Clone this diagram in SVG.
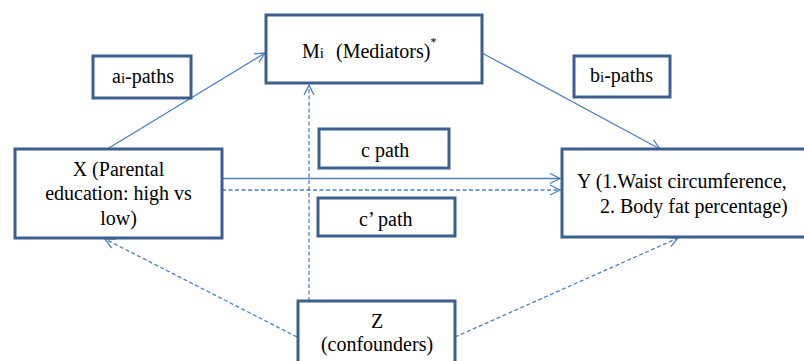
<svg xmlns="http://www.w3.org/2000/svg" width="804" height="361" viewBox="0 0 804 361">
<style>
.box{fill:#fff;stroke:#3d5f8e;stroke-width:3}
.t{font-family:'Liberation Serif','Times New Roman',Times,'DejaVu Serif',serif;font-size:20px;fill:#000}
.c{fill:none;stroke:#4f81bd;stroke-width:1.3}
.d{stroke-dasharray:4 2.5}
</style>
<defs>
<marker id="ah" viewBox="0 0 12 12" refX="11" refY="6" markerWidth="12" markerHeight="12" markerUnits="userSpaceOnUse" orient="auto">
<path d="M1,1 L11,6 L1,11" fill="none" stroke="#4f81bd" stroke-width="1.3"/>
</marker>
</defs>
<rect width="804" height="361" fill="#fff"/>
<g id="connectors">
<line class="c" x1="104" y1="151" x2="265" y2="53" marker-end="url(#ah)"/>
<line class="c" x1="482" y1="53" x2="660" y2="149" marker-end="url(#ah)"/>
<line class="c" x1="222" y1="178.5" x2="560" y2="178.5" marker-end="url(#ah)"/>
<line class="c d" x1="222" y1="190" x2="560" y2="190" marker-end="url(#ah)"/>
<line class="c d" x1="309" y1="301" x2="309" y2="85" marker-end="url(#ah)"/>
<line class="c d" x1="297" y1="337" x2="105" y2="239" marker-end="url(#ah)"/>
<line class="c d" x1="455" y1="337" x2="678" y2="238" marker-end="url(#ah)"/>
</g>
<g id="node-M">
<rect class="box" x="266" y="15" width="216" height="68"/>
<text class="t" x="302" y="58">M<tspan font-size="15">i</tspan><tspan x="336">(Mediators)</tspan><tspan font-size="12" dy="-12">*</tspan></text>
</g>
<g id="label-a">
<rect class="box" x="93" y="56" width="98" height="42"/>
<text class="t" x="112" y="83">a<tspan font-size="15">i</tspan>-paths</text>
</g>
<g id="label-b">
<rect class="box" x="574" y="56" width="96" height="41"/>
<text class="t" x="590" y="82">b<tspan font-size="15">i</tspan>-paths</text>
</g>
<g id="label-c">
<rect class="box" x="319" y="129" width="130" height="39"/>
<text class="t" x="361" y="157">c path</text>
</g>
<g id="node-X">
<rect class="box" x="15" y="149" width="207" height="89"/>
<text class="t" text-anchor="middle" x="118.5" y="176">X (Parental</text>
<text class="t" text-anchor="middle" x="118.5" y="200">education: high vs</text>
<text class="t" text-anchor="middle" x="118.5" y="225">low)</text>
</g>
<g id="node-Y">
<rect class="box" x="562" y="149" width="250" height="88"/>
<text class="t" x="577" y="188">Y (1.Waist circumference,</text>
<text class="t" x="600" y="213">2. Body fat percentage)</text>
</g>
<g id="label-cprime">
<rect class="box" x="318" y="198" width="137" height="38"/>
<text class="t" x="359" y="226">c’ path</text>
</g>
<g id="node-Z">
<rect class="box" x="298" y="301" width="157" height="70"/>
<text class="t" text-anchor="middle" x="377" y="328">Z</text>
<text class="t" text-anchor="middle" x="377" y="351">(confounders)</text>
</g>
</svg>
